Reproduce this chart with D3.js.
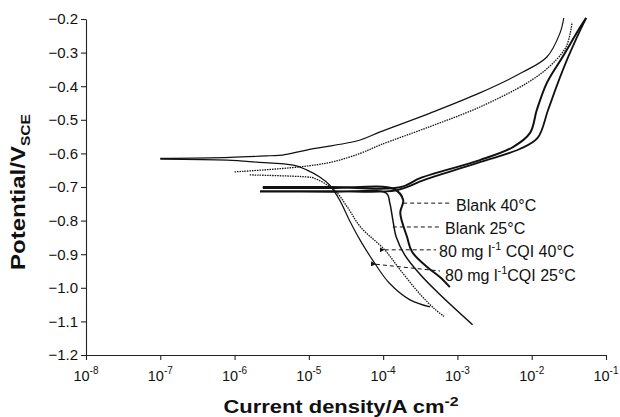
<!DOCTYPE html>
<html>
<head>
<meta charset="utf-8">
<script src="https://cdn.jsdelivr.net/npm/d3@7"></script>
<style>
  body { margin: 0; background: #fff; }
  svg { display: block; }
  text { font-family: "Liberation Sans", Arial, Helvetica, sans-serif; fill: #111; }
</style>
</head>
<body>
<svg id="chart" width="620" height="417"></svg>
<script>
// polarisation curves, [current density A/cm2, potential V vs SCE]
const cqi25Anodic = [[1e-7,-0.615],[8.7e-7,-0.612],[3e-6,-0.607],[4.4e-6,-0.605],[9.3e-6,-0.59],[4.9e-5,-0.56],[9.1e-5,-0.536],[4.3e-4,-0.48],[2e-3,-0.42],[7.6e-3,-0.358],[1.6e-2,-0.313],[2.4e-2,-0.242],[2.7e-2,-0.197]];
const cqi25Cathodic = [[1e-7,-0.617],[8e-7,-0.62],[2e-6,-0.626],[6.2e-6,-0.635],[9.3e-6,-0.649],[1.4e-5,-0.67],[1.9e-5,-0.694],[2.6e-5,-0.739],[3.5e-5,-0.798],[4.9e-5,-0.858],[7.6e-5,-0.925],[1.2e-4,-0.985],[2.3e-4,-1.036],[4.3e-4,-1.057]];
const cqi40Anodic = [[1e-6,-0.655],[7.6e-6,-0.64],[2.1e-5,-0.625],[4.9e-5,-0.6],[9.1e-5,-0.575],[4.3e-4,-0.52],[2e-3,-0.462],[8.7e-3,-0.39],[1.7e-2,-0.343],[2.9e-2,-0.283],[3.5e-2,-0.21]];
const cqi40Cathodic = [[1.6e-6,-0.664],[9.3e-6,-0.67],[1.15e-5,-0.673],[2.2e-5,-0.709],[3.3e-5,-0.76],[5e-5,-0.82],[1.05e-4,-0.887],[1.7e-4,-0.947],[3.2e-4,-1.021],[5e-4,-1.064],[6.6e-4,-1.085]];
const blank25Anodic = [[2.4e-6,-0.7],[2e-5,-0.7],[1.7e-4,-0.701],[3.2e-4,-0.673],[2e-3,-0.62],[5.6e-3,-0.581],[9.5e-3,-0.539],[1.17e-2,-0.471],[1.6e-2,-0.39],[2.6e-2,-0.313],[4.5e-2,-0.224],[5.4e-2,-0.197]];
const blank25Cathodic = [[2.4e-6,-0.703],[2e-5,-0.703],[1.4e-4,-0.706],[1.86e-4,-0.739],[1.7e-4,-0.777],[2.1e-4,-0.849],[2.45e-4,-0.893],[3.9e-4,-0.938],[5.8e-4,-0.968],[7.9e-4,-0.998]];
const blank40Anodic = [[2.2e-6,-0.712],[2e-5,-0.712],[1.5e-4,-0.71],[3.6e-4,-0.679],[2e-3,-0.626],[6.9e-3,-0.587],[1.2e-2,-0.554],[1.66e-2,-0.471],[2.2e-2,-0.396],[3.1e-2,-0.313],[4.5e-2,-0.233],[5.4e-2,-0.197]];
const blank40Cathodic = [[2.2e-6,-0.714],[2e-5,-0.715],[1.1e-4,-0.718],[1.23e-4,-0.748],[1.35e-4,-0.798],[1.5e-4,-0.849],[1.95e-4,-0.902],[3.2e-4,-0.962],[5.8e-4,-1.02],[1.6e-3,-1.11]];

const xTicks = [1e-8,1e-7,1e-6,1e-5,1e-4,1e-3,1e-2,1e-1];
const xTickExps = ["-8","-7","-6","-5","-4","-3","-2","-1"];
const yTicks = [-0.2,-0.3,-0.4,-0.5,-0.6,-0.7,-0.8,-0.9,-1.0,-1.1,-1.2];

// labels: text parts and the point the leader points at
const labelNames = [["Blank 40°C"],["Blank 25°C"],["80 mg l","-1"," CQI 40°C"],["80 mg l","-1","CQI 25°C"]];
const labelTargets = [[1.86e-4,-0.748],[1.35e-4,-0.819],[1.05e-4,-0.887],[8e-5,-0.93]];

const svg = d3.select('#chart');
const x = d3.scaleLog().domain([1e-8,1e-1]).range([86,606]);
const y = d3.scaleLinear().domain([-1.2,-0.2]).range([355,19]);

svg.append('defs').append('marker')
    .attr('id', 'tip')
    .attr('viewBox', '0 0 6 6')
    .attr('refX', 0).attr('refY', 3)
    .attr('markerWidth', 5).attr('markerHeight', 5)
    .attr('orient', 'auto-start-reverse')
    .attr('markerUnits', 'userSpaceOnUse')
    .append('path').attr('d', 'M6,0L0,3L6,6Z').attr('fill', '#111');

// axes
const xAxis = svg.append('g')
    .attr('transform', `translate(0,${y(-1.2)})`)
    .call(d3.axisBottom(x).tickValues(xTicks).tickFormat('').tickSize(5).tickSizeOuter(0));
const yAxis = svg.append('g')
    .attr('transform', `translate(${x(1e-8)},0)`)
    .call(d3.axisLeft(y).tickValues(yTicks).tickFormat(d3.format('.1f')).tickSize(5).tickSizeOuter(0));
[xAxis, yAxis].forEach(a => {
    a.selectAll('path,line').attr('stroke', '#222').attr('stroke-width', 1.1);
});
yAxis.selectAll('text')
    .attr('x', -8)
    .style('font-size', '15px')
    .style('font-family', '"Liberation Sans", Arial, sans-serif')
    .attr('fill', '#111');

const xl = svg.append('g').selectAll('text')
    .data(xTicks)
    .enter().append('text')
    .attr('x', d => x(d))
    .attr('y', 381)
    .attr('text-anchor', 'middle')
    .style('font-size', '14.5px');
xl.append('tspan').text('10');
xl.append('tspan').attr('dy', -7).style('font-size', '10px').text((d, i) => xTickExps[i]);

// axis titles (the source lettering is a little stretched)
const xt = svg.append('text')
    .attr('transform', 'translate(341,413) scale(1.22,1)')
    .attr('text-anchor', 'middle')
    .style('font-size', '18px').style('font-weight', 'bold');
xt.append('tspan').text('Current density/A cm');
xt.append('tspan').attr('dy', -7).style('font-size', '13px').text('-2');

const yt = svg.append('text')
    .attr('transform', 'translate(25,192) rotate(-90) scale(1.2,1)')
    .attr('text-anchor', 'middle')
    .style('font-size', '20px').style('font-weight', 'bold');
yt.append('tspan').text('Potential/V');
yt.append('tspan').attr('dy', 5).style('font-size', '13px').text('SCE');

// curves
const line = d3.line().x(d => x(d[0])).y(d => y(d[1])).curve(d3.curveCatmullRom);
const curves = [
    {data: cqi25Anodic, w: 1.2, dash: null},
    {data: cqi25Cathodic, w: 1.2, dash: null},
    {data: cqi40Anodic, w: 1.3, dash: '1.5,1'},
    {data: cqi40Cathodic, w: 1.3, dash: '1.5,1'},
    {data: blank25Anodic, w: 2, dash: null},
    {data: blank25Cathodic, w: 2, dash: null},
    {data: blank40Anodic, w: 1.8, dash: null},
    {data: blank40Cathodic, w: 1.5, dash: null}
];
svg.append('g').selectAll('path')
    .data(curves)
    .enter().append('path')
    .attr('d', d => line(d.data))
    .attr('fill', 'none')
    .attr('stroke', '#111')
    .attr('stroke-width', d => d.w)
    .attr('stroke-dasharray', d => d.dash);

// labels with dashed leaders
const labelX = [456, 445, 439, 445];
const labelY = [211, 234, 257, 281];
const leaderEnd = [[452, 0], [440, 0], [436, 0], [440, 271]];
const lab = svg.append('g').selectAll('g')
    .data(labelNames)
    .enter().append('g');
lab.append('line')
    .attr('x1', (d, i) => x(labelTargets[i][0]))
    .attr('y1', (d, i) => y(labelTargets[i][1]))
    .attr('x2', (d, i) => leaderEnd[i][0])
    .attr('y2', (d, i) => leaderEnd[i][1] || y(labelTargets[i][1]))
    .attr('stroke', '#111')
    .attr('stroke-dasharray', '4,3')
    .attr('marker-start', (d, i) => i > 1 ? 'url(#tip)' : null);
const lt = lab.append('text')
    .attr('x', (d, i) => labelX[i])
    .attr('y', (d, i) => labelY[i])
    .style('font-size', '16px');
lt.each(function (d) {
    const t = d3.select(this);
    d.forEach((s, k) => {
        const sp = t.append('tspan').text(s);
        if (k === 1) sp.attr('dy', -7).style('font-size', '11px');
        if (k === 2) sp.attr('dy', 7);
    });
});
</script>
</body>
</html>
